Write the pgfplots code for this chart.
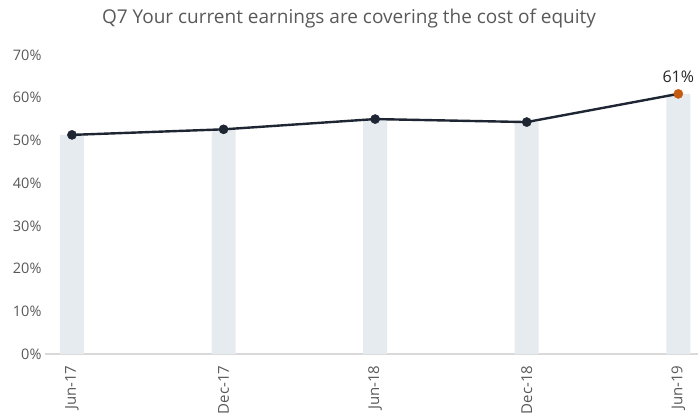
\documentclass[border=0pt]{standalone}
\usepackage{fontspec}
\setmainfont{Open Sans}
\usepackage{pgfplots}
\pgfplotsset{compat=1.18}
\definecolor{barc}{HTML}{E6EBEF}
\definecolor{linec}{HTML}{1F2633}
\definecolor{orangec}{HTML}{C55A11}
\definecolor{labelgray}{HTML}{595959}
\definecolor{axisgray}{HTML}{D9D9D9}
\begin{document}
\begin{tikzpicture}
\useasboundingbox (0,0) rectangle (698pt,416pt);
\node[font=\fontsize{19}{22}\selectfont, text=labelgray] at (349pt,397pt) {Q7 Your current earnings are covering the cost of equity};
\begin{axis}[
  at={(45pt,62pt)}, anchor=south west,
  scale only axis, width=653pt, height=299pt,
  xmin=-0.178, xmax=4.13, ymin=0, ymax=70,
  clip=false,
  axis x line=bottom, axis y line=left,
  axis line style={-},
  y axis line style={draw=none},
  x axis line style={draw=axisgray, line width=1.2pt},
  major tick length=0pt,
  ytick={0,10,...,70},
  yticklabel={\pgfmathprintnumber{\tick}\%},
  xtick={0,1,2,3,4},
  xticklabels={Jun-17,Dec-17,Jun-18,Dec-18,Jun-19},
  xticklabel style={rotate=90, anchor=east, xshift=-8pt, font=\fontsize{15}{17}\selectfont},
  yticklabel style={font=\fontsize{14.5}{17}\selectfont},
  tick label style={text=labelgray},
  /pgf/number format/assume math mode=true,
]
\addplot[ybar, bar width=24pt, fill=barc, draw=none] coordinates {(0,51.3) (1,52.6) (2,55.0) (3,54.3) (4,60.9)};
\addplot[line width=2.4pt, color=linec, mark=*, mark size=4.6pt, mark indices={1,2,3,4}, mark options={line width=0.4pt}] coordinates {(0,51.3) (1,52.6) (2,55.0) (3,54.3) (4,60.9)};
\addplot[only marks, mark=*, mark size=4.6pt, color=orangec,
  mark options={fill=orangec, draw=orangec, line width=0.4pt},
  nodes near coords={61\%},
  nodes near coords style={font=\fontsize{16}{18}\selectfont, text=black!85, anchor=south, yshift=8pt}]
  coordinates {(4,60.9)};
\end{axis}
\end{tikzpicture}
\end{document}
